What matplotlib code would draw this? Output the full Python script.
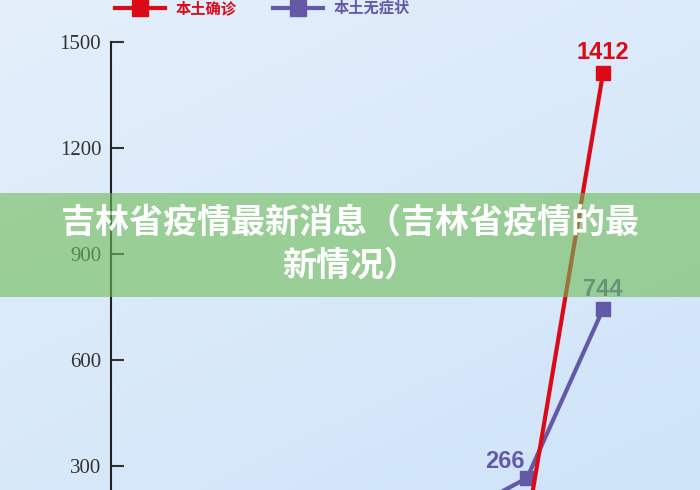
import numpy as np
import matplotlib
matplotlib.use("Agg")
import matplotlib.pyplot as plt
from matplotlib.lines import Line2D
from matplotlib.patches import Rectangle
from matplotlib.colors import LinearSegmentedColormap

# 数据（图片底部被裁切，前两个红点在可视范围以下，按斜率估计）
days = [0, 1, 2]
confirmed = [60, 133, 1412]        # 本土确诊
asymptomatic = [150, 266, 744]     # 本土无症状
yticks = [300, 600, 900, 1200, 1500]
labels = ["本土确诊", "本土无症状"]
title = "吉林省疫情最新消息（吉林省疫情的最\n新情况）"

red = "#dc0a16"
purple = "#6459a6"
cjk = ["Noto Sans CJK SC", "DejaVu Sans"]

fig = plt.figure(figsize=(7, 4.9), dpi=100)

# 浅蓝色渐变背景
bg = fig.add_axes([0, 0, 1, 1], zorder=-1)
xx, yy = np.meshgrid(np.linspace(0, 1, 200), np.linspace(0, 1, 200))
grad = (xx * 0.4 + yy * 0.6)
cmap = LinearSegmentedColormap.from_list("bg", ["#e4effb", "#cfe4f9"])
bg.imshow(grad, cmap=cmap, extent=[0, 1, 0, 1], aspect="auto", origin="upper")
bg.axis("off")

ax = fig.add_axes([111 / 700, 0, 1 - 111 / 700, 1])
ax.set_facecolor("none")
ax.plot(days, confirmed, color=red, lw=3, marker="s", ms=10, zorder=3)
ax.plot(days, asymptomatic, color=purple, lw=3, marker="s", ms=10, zorder=2)

ax.set_xlim(-4.474, 3.276)
ax.set_ylim(232, 1619)
ax.set_yticks(yticks)
ax.set_yticklabels([str(t) for t in yticks], family="Liberation Serif",
                   fontsize=15, color="#333333")
ax.tick_params(axis="y", direction="in", length=9.5, width=1.5,
               color="#333333", pad=7)
ax.set_xticks([])
for s in ["top", "right", "bottom"]:
    ax.spines[s].set_visible(False)
ax.spines["left"].set_linewidth(1.5)
ax.spines["left"].set_color("#222222")
ax.spines["left"].set_bounds(232, 1500)

# 数值标注
ax.annotate(str(confirmed[-1]), (days[-1], confirmed[-1]), xytext=(0, 15),
            textcoords="offset points", ha="center", va="center",
            color=red, fontsize=17, fontweight="bold", family="Liberation Sans")
ax.annotate(str(asymptomatic[-1]), (days[-1], asymptomatic[-1]), xytext=(0, 14),
            textcoords="offset points", ha="center", va="center",
            color=purple, fontsize=17, fontweight="bold", family="Liberation Sans")
ax.annotate(str(asymptomatic[1]), (days[1], asymptomatic[1]), xytext=(-16, 12),
            textcoords="offset points", ha="center", va="center",
            color=purple, fontsize=17, fontweight="bold", family="Liberation Sans")

# 图例
handles = [Line2D([], [], color=red, lw=3, marker="s", ms=11),
           Line2D([], [], color=purple, lw=3, marker="s", ms=11)]
leg = fig.legend(handles, labels, loc="center left",
                 bbox_to_anchor=(115 / 700, 1 - 8 / 490), ncol=2, frameon=False,
                 borderpad=0, borderaxespad=0, handlelength=3.3,
                 handletextpad=0.65, columnspacing=2.4,
                 prop={"family": "Noto Sans CJK SC", "weight": "bold", "size": 11})
for t, c in zip(leg.get_texts(), [red, purple]):
    t.set_color(c)

# 绿色横幅
fig.patches.append(Rectangle((0, 1 - 297 / 490), 1, 104 / 490,
                             transform=fig.transFigure, facecolor="#6fbc56",
                             alpha=0.6, edgecolor="none", zorder=5))
fig.text(0.5, 1 - 243.5 / 490, title, ha="center", va="center",
         multialignment="center", color="white", fontsize=24.5,
         fontweight="bold", family=cjk, linespacing=1.27, zorder=6)

fig.savefig("out.png", dpi=100)
